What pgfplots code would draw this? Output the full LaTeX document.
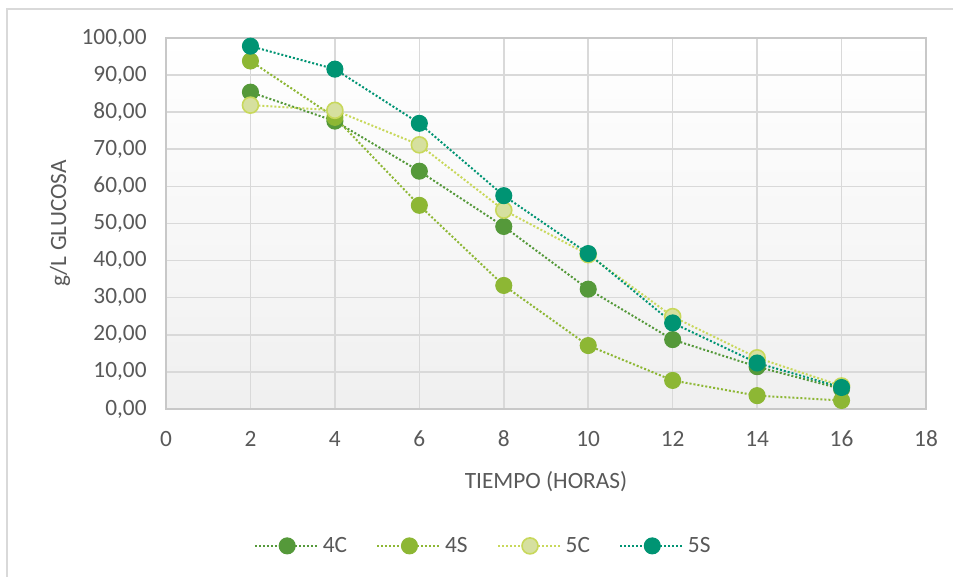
\documentclass[border=0pt]{standalone}
\usepackage{pgfplots}
\pgfplotsset{compat=1.18}
\usepackage{fontspec}
\setmainfont{Carlito}

\definecolor{cFourC}{HTML}{55993A}
\definecolor{cFourS}{HTML}{8DB734}
\definecolor{cFiveCfill}{HTML}{D6E09F}
\definecolor{cFiveCdraw}{HTML}{C8D85B}
\definecolor{cFiveS}{HTML}{009473}
\definecolor{gridgrey}{HTML}{D9D9D9}
\definecolor{framegrey}{HTML}{D9D9D9}
\definecolor{axisgrey}{HTML}{C8C8C8}
\definecolor{txtgrey}{HTML}{595959}

\begin{document}
\begin{tikzpicture}
% page: 953 x 577 units of 0.75pt
\useasboundingbox (0pt,0pt) rectangle (714.75pt,432.75pt);
\fill[white] (0pt,0pt) rectangle (714.75pt,432.75pt);
% chart area frame
\draw[framegrey, line width=1.2pt] (5.25pt,-4pt) -- (5.25pt,426pt) -- (720pt,426pt);

\begin{axis}[
  at={(124.5pt,126pt)}, anchor=south west,
  scale only axis,
  width=570pt, height=278.25pt,
  xmin=0, xmax=18, ymin=0, ymax=100,
  xtick={0,2,...,18},
  ytick={0,10,...,100},
  major tick length=0pt,
  grid=major,
  major grid style={gridgrey, line width=1.2pt},
  axis line style={axisgrey, line width=1.3pt},
  axis background/.style={top color=white, bottom color=black!6},
  font=\fontsize{17.5}{21}\selectfont,
  tick label style={txtgrey},
  /pgf/number format/assume math mode=true,
  yticklabel style={/pgf/number format/fixed, /pgf/number format/fixed zerofill,
    /pgf/number format/precision=2, /pgf/number format/use comma, /pgf/number format/1000 sep={}},
  yticklabel style={xshift=-11pt},
  xticklabel style={yshift=-13pt},
  xlabel={TIEMPO (HORAS)},
  ylabel={g/L GLUCOSA},
  every axis x label/.style={at={(axis description cs:0.5,0)}, anchor=center, yshift=-54.5pt, txtgrey},
  every axis y label/.style={at={(axis description cs:-0.1395,0.5)}, anchor=center, rotate=90, txtgrey},
  legend columns=4,
  legend style={at={(axis description cs:0.418,-0.369)}, anchor=center, draw=none, fill=none,
    font=\fontsize{17.5}{21}\selectfont\color{txtgrey},
    /tikz/every even column/.append style={column sep=20pt}},
  legend cell align=left,
  legend image code/.code={%
    \draw[mark repeat=2, mark phase=2] plot coordinates {(0pt,0pt) (24pt,0pt) (48pt,0pt)};},
  every axis plot/.append style={line width=1.5pt, dash pattern=on 1.5pt off 1.5pt, mark=*, mark size=6pt},
  clip=false,
]
\addplot[cFourC, mark options={solid, line width=0.8pt, fill=cFourC, draw=cFourC}] coordinates {
  (2,85.4) (4,77.6) (6,64.1) (8,49.2) (10,32.3) (12,18.7) (14,11.4) (16,5.4)};
\addlegendentry{4C}
\addplot[cFourS, mark options={solid, line width=0.8pt, fill=cFourS, draw=cFourS}] coordinates {
  (2,93.8) (4,78.6) (6,54.9) (8,33.3) (10,17.1) (12,7.7) (14,3.6) (16,2.3)};
\addlegendentry{4S}
\addplot[cFiveCdraw, mark options={solid, fill=cFiveCfill, draw=cFiveCdraw, line width=1.2pt}] coordinates {
  (2,81.9) (4,80.5) (6,71.2) (8,53.6) (10,41.6) (12,24.9) (14,13.8) (16,6.2)};
\addlegendentry{5C}
\addplot[cFiveS, mark options={solid, line width=0.8pt, fill=cFiveS, draw=cFiveS}] coordinates {
  (2,97.8) (4,91.6) (6,77.0) (8,57.5) (10,41.9) (12,23.2) (14,12.4) (16,5.8)};
\addlegendentry{5S}
\end{axis}
\end{tikzpicture}
\end{document}
